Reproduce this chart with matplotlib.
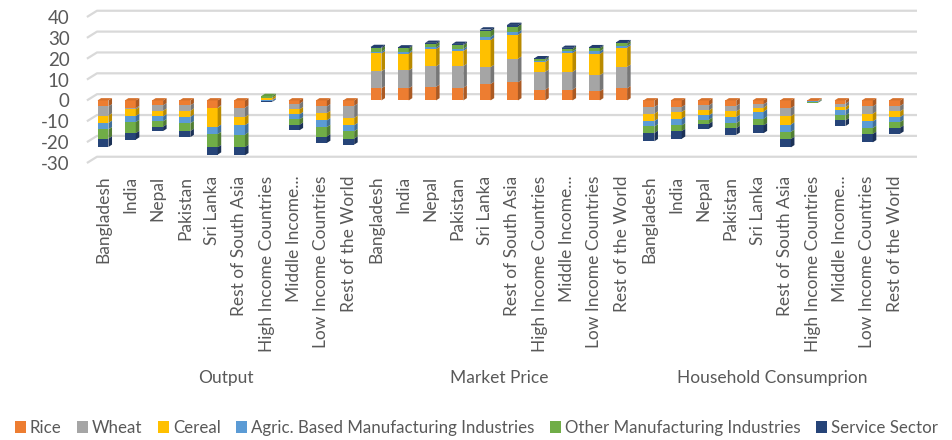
import numpy as np
import matplotlib
matplotlib.use("Agg")
import matplotlib.pyplot as plt
from matplotlib.patches import Polygon, Patch
from matplotlib.transforms import blended_transform_factory
import matplotlib.colors as mcolors

plt.rcParams['font.family'] = ['Lato', 'DejaVu Sans']
plt.rcParams['axes.unicode_minus'] = False

regions = ['Bangladesh', 'India', 'Nepal', 'Pakistan', 'Sri Lanka', 'Rest of South Asia',
           'High Income Countries', 'Middle Income...', 'Low Income Countries', 'Rest of the World']
groups = ['Output', 'Market Price', 'Household Consumprion']
series_names = ['Rice', 'Wheat', 'Cereal', 'Agric. Based Manufacturing Industries',
                'Other Manufacturing Industries', 'Service Sector']
series_colors = ['#ED7D31', '#A5A5A5', '#FFC000', '#5B9BD5', '#70AD47', '#264478']

# values per series: Output (10), Market Price (10), Household Consumprion (10)
rice = [-2.9, -3.7, -2.4, -2.4, -3.4, -3.5, 0.2, -1.6, -2.9, -2.6,
        5.8, 5.8, 6.5, 6.1, 7.9, 8.7, 5.2, 5.2, 4.4, 5.8,
        -3.2, -3.2, -2.4, -2.7, -1.9, -3.7, -0.3, -1.6, -2.9, -2.7]
wheat = [-4.4, -0.6, -2.6, -2.6, -0.3, -4.5, 0.1, -2.7, -3.2, -5.8,
         8.2, 8.6, 9.8, 10.4, 8.1, 11.3, 8.5, 8.5, 7.7, 10.3,
         -3.2, -2.4, -2.4, -2.6, -1.6, -3.9, -0.1, -1.6, -3.5, -2.6]
cereal = [-3.5, -3.2, -2.7, -2.9, -9.0, -3.9, 1.0, -2.4, -3.5, -3.5,
          8.5, 8.0, 8.3, 7.2, 13.0, 11.4, 4.7, 9.0, 10.2, 9.2,
          -3.5, -3.2, -2.4, -2.7, -1.9, -4.0, -0.1, -1.6, -3.7, -2.7]
agric = [-3.1, -2.9, -2.3, -3.1, -3.5, -4.5, -0.5, -2.4, -3.2, -2.9,
         0.8, 0.6, 0.8, 1.0, 1.5, 1.3, 0.7, 0.8, 1.2, 0.8,
         -2.6, -3.2, -2.1, -2.9, -3.4, -3.5, -0.2, -2.4, -3.1, -2.4]
other = [-4.4, -5.3, -2.6, -3.7, -6.3, -6.0, 0.8, -2.6, -4.5, -3.5,
         1.7, 1.9, 1.6, 1.8, 2.7, 2.7, 0.6, 1.2, 1.5, 1.2,
         -3.1, -2.7, -1.9, -2.4, -3.2, -3.4, -0.3, -2.4, -2.9, -2.7]
service = [-4.0, -3.1, -2.1, -2.9, -3.5, -3.9, -0.2, -2.6, -3.1, -2.9,
           0.6, 0.5, 0.6, 0.6, 0.8, 0.8, 0.5, 0.5, 0.5, 0.6,
           -4.0, -3.7, -2.4, -3.2, -3.7, -4.0, -0.1, -2.7, -4.0, -2.9]

y_ticks = [-30, -20, -10, 0, 10, 20, 30, 40]

text_col = '#595959'
fig = plt.figure(figsize=(9.53, 4.4), dpi=100)
ax = fig.add_axes([85 / 953, (440 - 163) / 440, 832 / 953, 146 / 440])
ax.set_xlim(-0.66, 29.82)
ax.set_ylim(-30, 40)

data = np.array([rice, wheat, cereal, agric, other, service])
n = data.shape[1]
x = np.arange(n)
w = 0.4      # front face width
dx = 0.13    # depth in x
dy = 1.1     # depth in y

def shade(c, f):
    r, g, b = mcolors.to_rgb(c)
    return (r * f, g * f, b * f)

# back wall gridlines
gy = 3.0
for t in y_ticks:
    ax.plot([-0.59, -0.22, 29.82], [t, t + gy, t + gy], color='#d9d9d9', lw=1.6,
            zorder=0, clip_on=False, solid_capstyle='butt')

pos_bottom = np.zeros(n)
neg_bottom = np.zeros(n)
for k in range(len(series_names)):
    vals = data[k]
    bottoms = np.where(vals >= 0, pos_bottom, neg_bottom)
    ax.bar(x, vals, width=w, bottom=bottoms, color=series_colors[k], zorder=3)
    for i in range(n):
        lo, hi = sorted([bottoms[i], bottoms[i] + vals[i]])
        xr = x[i] + w / 2
        side = Polygon([(xr, lo), (xr + dx, lo + dy), (xr + dx, hi + dy), (xr, hi)],
                       closed=True, facecolor=shade(series_colors[k], 0.72),
                       edgecolor='none', zorder=3, clip_on=False)
        ax.add_patch(side)
    pos_bottom = np.where(vals >= 0, pos_bottom + vals, pos_bottom)
    neg_bottom = np.where(vals < 0, neg_bottom + vals, neg_bottom)

# top faces: highest positive segment, or first negative segment at zero
for i in range(n):
    col = data[:, i]
    if pos_bottom[i] > 0:
        top = pos_bottom[i]
        k = max(j for j in range(len(col)) if col[j] > 0)
    else:
        top = 0.0
        k = min(j for j in range(len(col)) if col[j] < 0)
    xl, xr = x[i] - w / 2, x[i] + w / 2
    face = Polygon([(xl, top), (xl + dx, top + dy), (xr + dx, top + dy), (xr, top)],
                   closed=True, facecolor=shade(series_colors[k], 0.9),
                   edgecolor='none', zorder=4, clip_on=False)
    ax.add_patch(face)

for s in ax.spines.values():
    s.set_visible(False)
ax.set_yticks(y_ticks)
ax.tick_params(axis='y', length=0, pad=11, labelsize=13.5, labelcolor=text_col)
ax.set_xticks(x)
ax.set_xticklabels(regions * len(groups), rotation=90, va='top', ha='center')
ax.tick_params(axis='x', length=0, pad=9, labelsize=12.5, labelcolor=text_col)

trans = blended_transform_factory(ax.transData, fig.transFigure)
for g, name in enumerate(groups):
    ax.text(g * 10 + 4.5, (440 - 378) / 440, name, transform=trans, ha='center',
            va='center', fontsize=12.5, color=text_col)

handles = [Patch(facecolor=c, label=l) for c, l in zip(series_colors, series_names)]
fig.legend(handles=handles, loc='center', bbox_to_anchor=(0.5, (440 - 428) / 440),
           ncol=6, frameon=False, fontsize=12.2, handlelength=0.65, handleheight=0.65,
           handletextpad=0.25, columnspacing=0.9, labelcolor=text_col,
           borderpad=0, borderaxespad=0)

fig.savefig('out.png', dpi=100)
